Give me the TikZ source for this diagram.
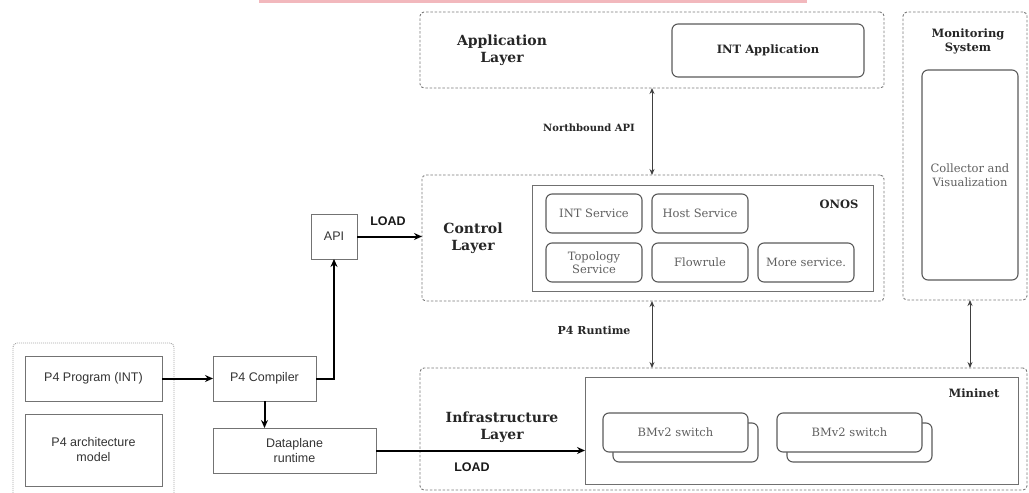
\documentclass[tikz,border=0pt]{standalone}
\usepackage{fontspec}
\setmainfont{DejaVu Serif}
\newfontfamily\arialfont{Liberation Sans}
\usetikzlibrary{arrows.meta}

\definecolor{edgegray}{HTML}{5A5A5A}
\definecolor{framegray}{HTML}{707070}
\definecolor{dashgray}{HTML}{7A7A7A}
\definecolor{svctext}{HTML}{606060}
\definecolor{barpink}{HTML}{F2B8BD}

\tikzset{
  wh/.style 2 args={minimum width=#1pt, minimum height=#2pt},
  layer/.style={draw=dashgray, line width=0.9pt, dash pattern=on 2.5pt off 1.8pt,
    rounded corners=4pt, anchor=north west, inner sep=0pt, outer sep=0pt},
  frame/.style={draw=framegray, line width=1pt, anchor=north west,
    inner sep=0pt, outer sep=0pt},
  svc/.style={draw=edgegray, line width=1.1pt, rounded corners=6pt, fill=white,
    anchor=north west, align=center, text=svctext, inner sep=0pt, outer sep=0pt,
    font=\fontsize{11.5}{13.5}\selectfont},
  p4box/.style={draw=black!55, line width=0.8pt, anchor=north west, align=center,
    text=black!80, inner sep=0pt, outer sep=0pt,
    font=\arialfont\fontsize{12.5}{15}\selectfont},
  title/.style={align=center, text=black!85, font=\bfseries\fontsize{14}{17}\selectfont},
  small title/.style={align=center, text=black!85,
    font=\bfseries\fontsize{11.5}{14}\selectfont},
  load/.style={text=black!90, font=\arialfont\bfseries\fontsize{12.5}{15}\selectfont},
  feed/.style={line width=2pt, -{Stealth[length=8pt, width=7pt]}},
  api link/.style={draw=black!75, line width=0.9pt,
    {Stealth[length=6pt, width=5pt]}-{Stealth[length=6pt, width=5pt]}},
}

\begin{document}
\begin{tikzpicture}[x=1pt, y=-1pt]
  \useasboundingbox (0,0) rectangle (1029,493);
  \fill[barpink] (259,0) rectangle (807,2.5);

  % --- application layer ---
  \node[layer, wh={464}{76}] (appL) at (420,12) {};
  \node[title] (appLbl) at (502,50) {Application\\Layer};
  \node[svc, wh={192}{53}, font=\bfseries\fontsize{11.5}{13}\selectfont, text=black!85]
    (intapp) at (672,24) {INT Application};

  % --- control layer ---
  \node[layer, wh={462}{126}] (ctrlL) at (422,175) {};
  \node[title] (ctrlLbl) at (473,238) {Control\\Layer};
  \node[frame, wh={341}{106}] (onos) at (532,185) {};
  \node[small title] (onosLbl) at (839,204) {ONOS};
  \node[svc, wh={96}{39}] (intsrv) at (546,194) {INT Service};
  \node[svc, wh={96}{39}] (hostsrv) at (652,194) {Host Service};
  \node[svc, wh={96}{39}] (topo) at (546,243) {Topology\\Service};
  \node[svc, wh={96}{39}] (flow) at (652,243) {Flowrule};
  \node[svc, wh={96}{39}] (more) at (758,243) {More service.};

  % --- infrastructure layer ---
  \node[layer, wh={607}{122}] (infL) at (420,368) {};
  \node[title] (infLbl) at (502,427) {Infrastructure\\Layer};
  \node[frame, wh={433}{107}] (mini) at (585,377) {};
  \node[small title] (miniLbl) at (974,393) {Mininet};
  \node[svc, wh={145}{39}] (sw1b) at (613,423) {};
  \node[svc, wh={145}{39}] (sw1) at (603,413) {BMv2 switch};
  \node[svc, wh={145}{39}] (sw2b) at (787,423) {};
  \node[svc, wh={145}{39}] (sw2) at (777,413) {BMv2 switch};

  % --- monitoring ---
  \node[layer, wh={124}{288}] (monL) at (903,12) {};
  \node[small title] (monLbl) at (968,41) {Monitoring\\System};
  \node[svc, wh={96}{210}] (coll) at (922,70) {Collector and\\Visualization};

  % --- P4 toolchain ---
  \draw[draw=black!35, line width=0.9pt, dash pattern=on 1pt off 1pt, rounded corners=4pt]
    (13,493) -- (13,343) -- (174,343) -- (174,493);
  \node[p4box, wh={137}{45}] (prog) at (25,356) {P4 Program (INT)};
  \node[p4box, wh={137}{72}] (arch) at (25,414) {P4 architecture\\model};
  \node[p4box, wh={103}{45}] (comp) at (213,356) {P4 Compiler};
  \node[p4box, wh={163}{45}] (dp) at (213,428) {Dataplane\\runtime};
  \node[p4box, wh={46}{45}] (api) at (311,214) {API};

  % --- connectors ---
  \draw[feed] (prog) -- (comp);
  \draw[feed] (comp.south) -- (comp.south |- dp.north);
  \draw[feed] (comp.east) -| (api.south);
  \draw[feed] (api.east) -- (api.east -| ctrlL.west);
  \node[load] (load1) at (388,221) {LOAD};
  \draw[feed] (dp.east) -- (dp.east -| mini.west);
  \node[load] (load2) at (472,467) {LOAD};

  \draw[api link] (hostsrv.west |- appL.south) -- (hostsrv.west |- ctrlL.north);
  \node[small title, font=\bfseries\fontsize{10}{12}\selectfont] (nbLbl) at (589,128)
    {Northbound API};
  \draw[api link] (hostsrv.west |- ctrlL.south) -- (hostsrv.west |- infL.north);
  \node[small title, font=\bfseries\fontsize{11}{13}\selectfont] (rtLbl) at (594,330)
    {P4 Runtime};
  \draw[api link] (coll.south |- monL.south) -- (coll.south |- infL.north);
\end{tikzpicture}
\end{document}
